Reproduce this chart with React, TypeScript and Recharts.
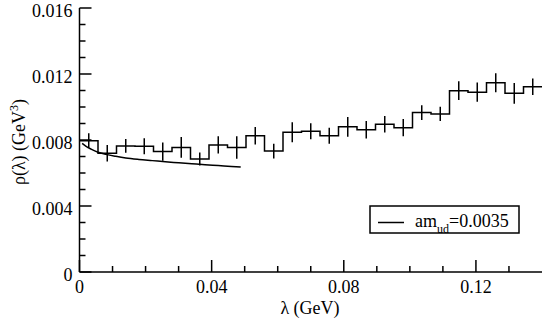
import React from 'react';
import { ComposedChart, Line, XAxis, YAxis, ErrorBar } from 'recharts';

// ---- data ----
const binCenters = [
  0.0028, 0.0084, 0.014, 0.0196, 0.0252, 0.0308, 0.0364, 0.042, 0.0476, 0.0532,
  0.0588, 0.0644, 0.07, 0.0756, 0.0812, 0.0868, 0.0924, 0.098, 0.1036, 0.1092,
  0.1148, 0.1204, 0.126, 0.1316, 0.1372,
];
const binWidth = 0.0056;
const rhoValues = [
  0.00796, 0.0072, 0.00764, 0.00762, 0.0073, 0.00755, 0.00685, 0.0077, 0.00755, 0.00826,
  0.00733, 0.00847, 0.00853, 0.00826, 0.0088, 0.00862, 0.00895, 0.00875, 0.00966, 0.00958,
  0.01099, 0.0109, 0.01147, 0.01083, 0.01123,
];
const rhoErrors = [
  0.00045, 0.0005, 0.00042, 0.00048, 0.00055, 0.00063, 0.0004, 0.00052, 0.00068, 0.00053,
  0.00045, 0.0006, 0.00048, 0.00048, 0.0006, 0.00053, 0.0005, 0.00053, 0.00045, 0.00043,
  0.00057, 0.00058, 0.00058, 0.00063, 0.0005,
];
const curveLambda = [
  0.0008, 0.002, 0.0035, 0.0056, 0.008, 0.011, 0.014, 0.018, 0.022, 0.026, 0.03, 0.034,
  0.038, 0.042, 0.046, 0.0488,
];
const curveRho = [
  0.0078, 0.00762, 0.00745, 0.00726, 0.00713, 0.00701, 0.00691, 0.00682, 0.00675, 0.00668,
  0.00662, 0.00656, 0.0065, 0.00645, 0.0064, 0.00636,
];
const xMajorTicks = [0, 0.04, 0.08, 0.12];
const xMinorTicks = [0.01, 0.02, 0.03, 0.05, 0.06, 0.07, 0.09, 0.1, 0.11, 0.13];
const yMajorTicks = [0, 0.004, 0.008, 0.012, 0.016];
const yMinorTicks = [0.001, 0.002, 0.003, 0.005, 0.006, 0.007, 0.009, 0.01, 0.011, 0.013, 0.014, 0.015];
const xDomain: [number, number] = [0, 0.14];
const yDomain: [number, number] = [0, 0.016];
const xLabel = 'λ (GeV)';
const legendName = 'am';
const legendSub = 'ud';
const legendValue = '=0.0035';

// ---- derived tables ----
const histData = [
  ...binCenters.map((c, i) => ({ x: c - binWidth / 2, h: rhoValues[i] })),
  { x: binCenters[binCenters.length - 1] + binWidth / 2, h: rhoValues[rhoValues.length - 1] },
];
const errData = binCenters.map((c, i) => ({ x: c, e: rhoValues[i], err: rhoErrors[i] }));
const curveData = curveLambda.map((l, i) => ({ x: l, c: curveRho[i] }));
const xTicks = [...xMajorTicks, ...xMinorTicks].sort((a, b) => a - b);
const yTicks = [...yMajorTicks, ...yMinorTicks].sort((a, b) => a - b);

const TXT: React.CSSProperties = { fontFamily: "'Liberation Serif', 'DejaVu Serif', serif", fontSize: 18 };
const SW = 1.5;
const MAJ = 12;
const MIN = 6;

const BottomTick = (props: any) => {
  const { x, y, payload } = props;
  const major = xMajorTicks.includes(payload.value);
  return (
    <g>
      <line x1={x} x2={x} y1={y} y2={y - (major ? MAJ : MIN)} stroke="#000" strokeWidth={SW} />
      {major && (
        <text x={x} y={y + 21} textAnchor="middle" style={TXT} fill="#000">
          {String(payload.value)}
        </text>
      )}
    </g>
  );
};
const TopTick = (props: any) => {
  const { x, y, payload } = props;
  const major = xMajorTicks.includes(payload.value);
  return <line x1={x} x2={x} y1={y} y2={y + (major ? MAJ : MIN)} stroke="#000" strokeWidth={SW} />;
};
const LeftTick = (props: any) => {
  const { x, y, payload } = props;
  const major = yMajorTicks.includes(payload.value);
  return (
    <g>
      <line x1={x} x2={x + (major ? MAJ : MIN)} y1={y} y2={y} stroke="#000" strokeWidth={SW} />
      {major && (
        <text x={x - 7} y={y + 8.8} textAnchor="end" style={TXT} fill="#000">
          {String(payload.value)}
        </text>
      )}
    </g>
  );
};
const RightTick = (props: any) => {
  const { x, y, payload } = props;
  const major = yMajorTicks.includes(payload.value);
  return <line x1={x} x2={x - (major ? MAJ : MIN)} y1={y} y2={y} stroke="#000" strokeWidth={SW} />;
};

const axisLine = { stroke: '#000', strokeWidth: SW };

export default function App() {
  return (
    <div style={{ position: 'absolute', left: 0, top: 0, width: 545, height: 318, background: '#fff' }}>
      <ComposedChart width={545} height={318} margin={{ top: 8, right: 3, bottom: 0, left: 0 }}>
        <XAxis
          xAxisId="b"
          dataKey="x"
          type="number"
          domain={xDomain}
          ticks={xTicks}
          interval={0}
          height={46}
          tickSize={0}
          tickMargin={0}
          axisLine={axisLine}
          tickLine={false}
          tick={<BottomTick />}
          allowDataOverflow
        />
        <XAxis
          xAxisId="t"
          orientation="top"
          dataKey="x"
          type="number"
          domain={xDomain}
          ticks={xTicks}
          interval={0}
          height={0}
          tickSize={0}
          tickMargin={0}
          axisLine={axisLine}
          tickLine={false}
          tick={<TopTick />}
          allowDataOverflow
        />
        <YAxis
          yAxisId="l"
          type="number"
          domain={yDomain}
          ticks={yTicks}
          interval={0}
          width={79.5}
          tickSize={0}
          tickMargin={0}
          axisLine={axisLine}
          tickLine={false}
          tick={<LeftTick />}
          allowDataOverflow
        />
        <YAxis
          yAxisId="r"
          orientation="right"
          type="number"
          domain={yDomain}
          ticks={yTicks}
          interval={0}
          width={0}
          tickSize={0}
          tickMargin={0}
          axisLine={axisLine}
          tickLine={false}
          tick={<RightTick />}
          allowDataOverflow
        />
        <Line
          xAxisId="b"
          yAxisId="l"
          data={histData}
          dataKey="h"
          type="stepAfter"
          stroke="#000"
          strokeWidth={SW}
          dot={false}
          isAnimationActive={false}
        />
        <Line
          xAxisId="b"
          yAxisId="l"
          data={errData}
          dataKey="e"
          stroke="none"
          dot={false}
          isAnimationActive={false}
        >
          <ErrorBar dataKey="err" direction="y" width={0} stroke="#000" strokeWidth={SW} isAnimationActive={false} />
        </Line>
        <Line
          xAxisId="b"
          yAxisId="l"
          data={curveData}
          dataKey="c"
          type="monotone"
          stroke="#000"
          strokeWidth={SW}
          dot={false}
          isAnimationActive={false}
        />
      </ComposedChart>
      <svg
        width={545}
        height={318}
        style={{ position: 'absolute', left: 0, top: 0, pointerEvents: 'none' }}
      >
        <text x={310} y={314} textAnchor="middle" style={TXT} fill="#000">
          {xLabel}
        </text>
        <text transform="rotate(-90)" x={-142} y={25} textAnchor="middle" style={TXT} fill="#000">
          ρ(λ) (GeV<tspan dy={-7} fontSize={12} fill="#000">3</tspan>
          <tspan dy={7} fill="#000">)</tspan>
        </text>
        <rect x={370} y={206} width={149} height={27} fill="#fff" stroke="#000" strokeWidth={SW} />
        <line x1={378} x2={404} y1={222.5} y2={222.5} stroke="#000" strokeWidth={SW} />
        <text x={415} y={226.5} style={TXT} fill="#000">
          {legendName}
          <tspan dy={6} fontSize={12} fill="#000">{legendSub}</tspan>
          <tspan dy={-6} fill="#000">{legendValue}</tspan>
        </text>
      </svg>
    </div>
  );
}
